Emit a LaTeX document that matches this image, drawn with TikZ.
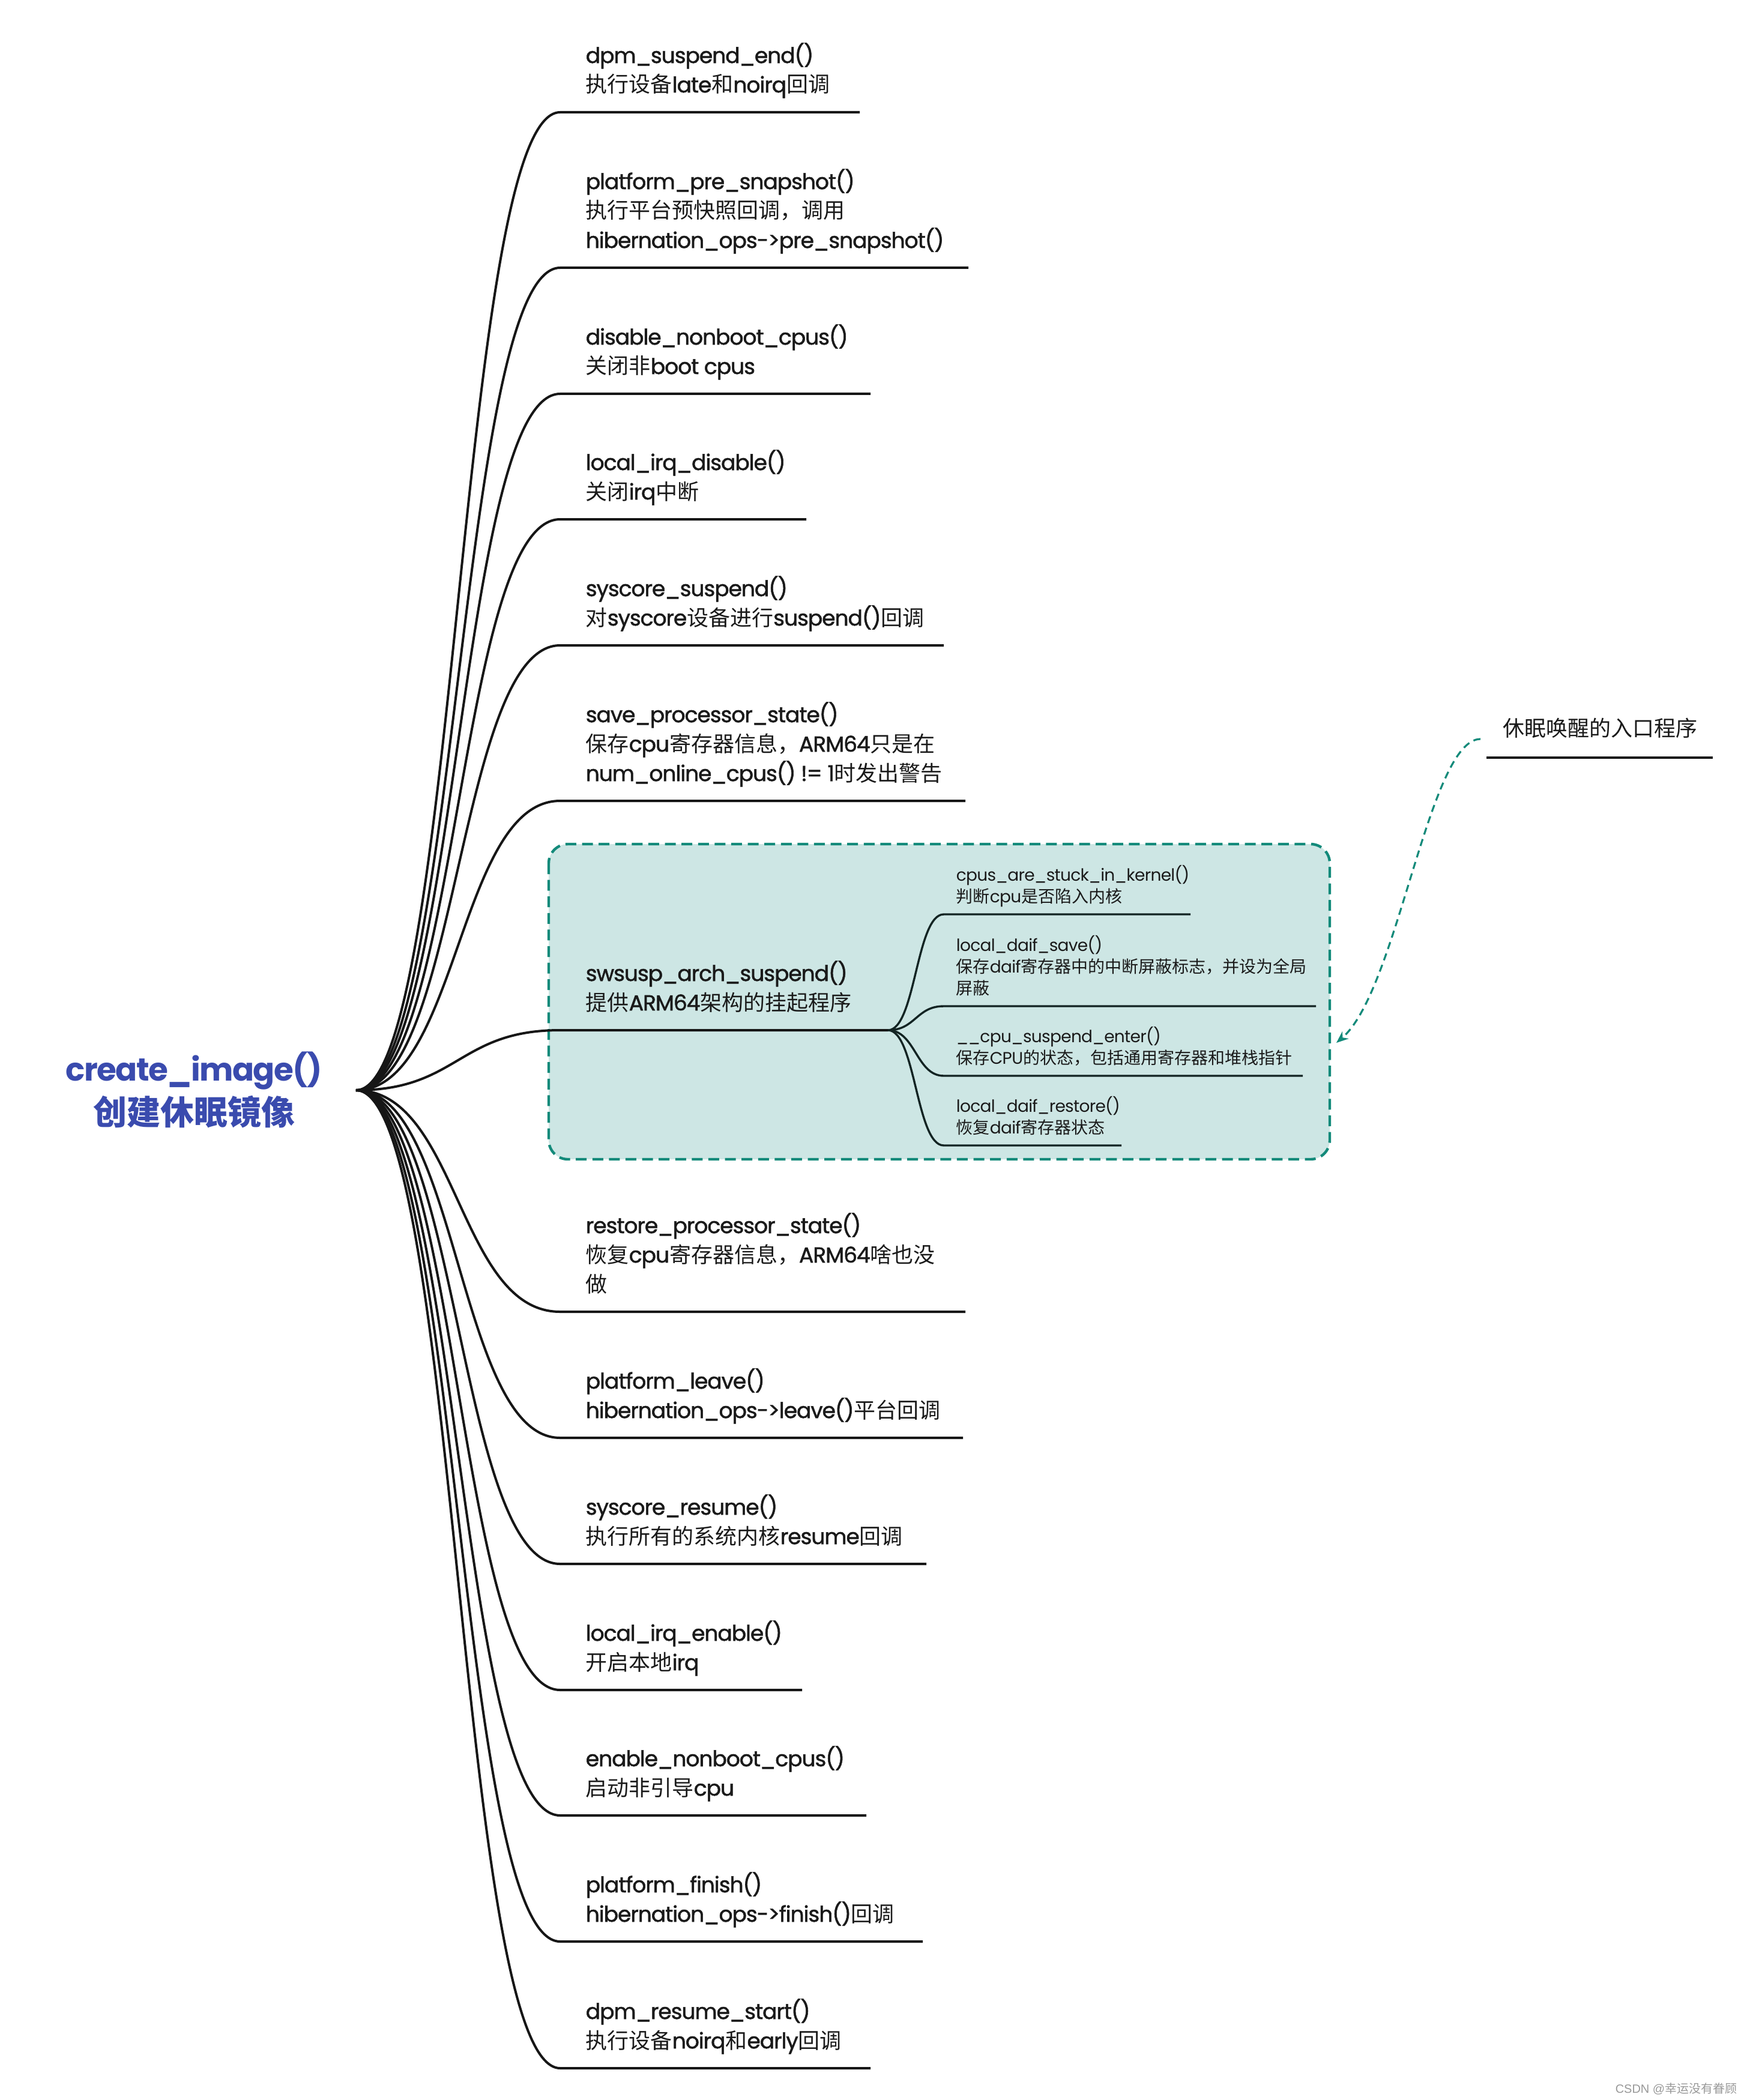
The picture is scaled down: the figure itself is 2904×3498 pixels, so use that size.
\documentclass[tikz,border=0pt]{standalone}
\usepackage{fontspec}
\setmainfont{Poppins}[LetterSpace=-2.5]
\newfontfamily\medfont{Poppins}[LetterSpace=-2.8, FakeBold=1.5]
\newfontfamily\titlefont{Poppins}[Scale=0.95, LetterSpace=-3]
\newfontfamily\cjk{Noto Sans CJK SC}
\newfontfamily\wmfont{Liberation Sans}
\usetikzlibrary{arrows.meta,calc}
\newcommand\C[1]{{\cjk #1}}
\definecolor{linec}{HTML}{161616}
\definecolor{sublinec}{HTML}{132423}
\definecolor{titleblue}{HTML}{3A4BAE}
\definecolor{boxfill}{HTML}{CDE6E4}
\definecolor{teal}{HTML}{138A7A}
\definecolor{txt}{HTML}{1A1A1A}
\tikzset{
  brline/.style={line width=1pt, draw=linec},
  subline/.style={line width=0.85pt, draw=sublinec},
  brtext/.style={anchor=base west, inner sep=0pt, text=txt, font=\fontsize{9}{12.25}\selectfont\medfont},
  subtext/.style={anchor=base west, inner sep=0pt, text=txt, font=\fontsize{7}{9}\selectfont},
  titletext/.style={align=center, inner sep=0pt, text=titleblue, font=\fontsize{14}{18.25}\selectfont\titlefont\bfseries},
  groupbox/.style={draw=teal, fill=boxfill, line width=1.1pt, dash pattern=on 4.5pt off 2.4pt, rounded corners=8pt},
  callarrow/.style={draw=teal, line width=0.8pt, dash pattern=on 3pt off 2pt, -{Stealth[length=5pt,width=4pt]}},
}
\newcommand\branch[5]{%
  \coordinate (#1s) at (933,#2);
  \coordinate (#1e) at (#3,#2);
  \draw[brline] (hubroot) .. controls +(170,0) and +(-170,0) .. (#1s) -- (#1e);
  \node[brtext] (#1) at (975,#2-33) {\begin{tabular}[b]{@{}l@{}}#5\end{tabular}};
}
\newcommand\subbranch[4]{%
  \coordinate (#1s) at (1572,#2);
  \coordinate (#1e) at (#3,#2);
  \draw[subline] (hub) .. controls +(46,0) and +(-46,0) .. (#1s) -- (#1e);
  \node[subtext] (#1) at (1592,#2-20) {\begin{tabular}[b]{@{}l@{}}#4\end{tabular}};
}
\begin{document}
\begin{tikzpicture}[x=0.25pt,y=-0.25pt]
\useasboundingbox (0,0) rectangle (2904,3498);
\fill[white] (0,0) rectangle (2904,3498);

% group box
\draw[groupbox] (914,1406) rectangle (2215,1931);

% root
\node[titletext] (title) at (323,1815) {create\_image()\\\C{创建休眠镜像}};
\coordinate (hubroot) at (593,1816);

\branch{b1}{187}{1432}{2}{dpm\_suspend\_end()\\\C{执行设备}late\C{和}noirq\C{回调}}
\branch{b2}{446}{1613}{3}{platform\_pre\_snapshot()\\\C{执行平台预快照回调，调用}\\hibernation\_ops->pre\_snapshot()}
\branch{b3}{656}{1450}{2}{disable\_nonboot\_cpus()\\\C{关闭非}boot cpus}
\branch{b4}{865}{1343}{2}{local\_irq\_disable()\\\C{关闭}irq\C{中断}}
\branch{b5}{1075}{1572}{2}{syscore\_suspend()\\\C{对}syscore\C{设备进行}suspend()\C{回调}}
\branch{b6}{1334}{1608}{3}{save\_processor\_state()\\\C{保存}cpu\C{寄存器信息，}ARM64\C{只是在}\\num\_online\_cpus() != 1\C{时发出警告}}
\branch{b7}{1716}{1479}{2}{swsusp\_arch\_suspend()\\\C{提供}ARM64\C{架构的挂起程序}}
\branch{b8}{2185}{1608}{3}{restore\_processor\_state()\\\C{恢复}cpu\C{寄存器信息，}ARM64\C{啥也没}\\\C{做}}
\branch{b9}{2395}{1604}{2}{platform\_leave()\\hibernation\_ops->leave()\C{平台回调}}
\branch{b10}{2605}{1543}{2}{syscore\_resume()\\\C{执行所有的系统内核}resume\C{回调}}
\branch{b11}{2815}{1336}{2}{local\_irq\_enable()\\\C{开启本地}irq}
\branch{b12}{3024}{1443}{2}{enable\_nonboot\_cpus()\\\C{启动非引导}cpu}
\branch{b13}{3234}{1537}{2}{platform\_finish()\\hibernation\_ops->finish()\C{回调}}
\branch{b14}{3445}{1450}{2}{dpm\_resume\_start()\\\C{执行设备}noirq\C{和}early\C{回调}}

% sub branches
\coordinate (hub) at (1479,1716);
\subbranch{sa}{1523}{1983}{cpus\_are\_stuck\_in\_kernel()\\\C{判断}cpu\C{是否陷入内核}}
\subbranch{sb}{1676}{2192}{local\_daif\_save()\\\C{保存}daif\C{寄存器中的中断屏蔽标志，并设为全局}\\\C{屏蔽}}
\subbranch{sc}{1792}{2170}{\_\_cpu\_suspend\_enter()\\\C{保存}CPU\C{的状态，包括通用寄存器和堆栈指针}}
\subbranch{sd}{1908}{1868}{local\_daif\_restore()\\\C{恢复}daif\C{寄存器状态}}

% callout
\node[anchor=center, inner sep=0pt, text=txt, font=\fontsize{9}{12}\selectfont\cjk] (note) at (2665,1213) {休眠唤醒的入口程序};
\coordinate (notel) at (2476,1262);
\coordinate (noter) at (2853,1262);
\draw[line width=1pt, draw=linec] (notel) -- (noter);
\coordinate (callstart) at (2466,1231);
\coordinate (calltip) at (2226,1737);
\draw[callarrow] (callstart) .. controls +(-86,0) and +(102,-87) .. (calltip);

% watermark
\node[anchor=center, inner sep=0pt, text=black!40, font=\fontsize{5}{6}\selectfont\wmfont] (wm) at (2792,3479) {CSDN @\C{幸运没有眷顾}};
\end{tikzpicture}
\end{document}
